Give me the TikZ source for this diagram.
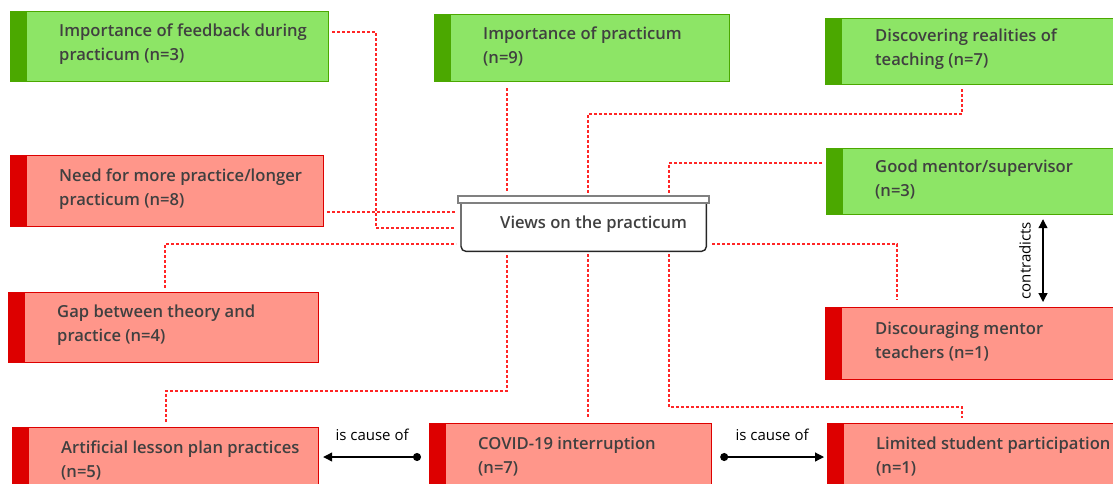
\documentclass[tikz,border=0pt]{standalone}
\usepackage{fontspec}
\setmainfont{Open Sans}
\IfFontExistsTF{Open Sans SemiBold}{\newfontfamily\semib{Open Sans SemiBold}}{%
  \IfFontExistsTF{Open Sans Semibold}{\newfontfamily\semib{Open Sans Semibold}}{%
    \newfontfamily\semib{Open Sans}}}
\usetikzlibrary{arrows.meta,calc}
\definecolor{gfill}{HTML}{8DE566}
\definecolor{gdark}{HTML}{4BA800}
\definecolor{rfill}{HTML}{FF968A}
\definecolor{rdark}{HTML}{DD0000}
\definecolor{txt}{HTML}{404040}
\definecolor{lnk}{HTML}{FF2626}
\tikzset{
  x=1pt, y=-1pt,
  card/.style={rectangle, anchor=north west, inner sep=0pt, line width=1.2pt},
  gcard/.style={card, draw=gdark, fill=gfill,
    path picture={\fill[gdark] (path picture bounding box.south west) rectangle ([xshift=16pt]path picture bounding box.north west);}},
  rcard/.style={card, draw=rdark, fill=rfill,
    path picture={\fill[rdark] (path picture bounding box.south west) rectangle ([xshift=16pt]path picture bounding box.north west);}},
  lbl/.style={anchor=west, align=left, inner sep=0pt, text=txt, font=\semib\fontsize{16.6}{24}\selectfont},
  link/.style={draw=lnk, line width=1.8pt, dash pattern=on 3pt off 2pt},
  rel/.style={draw=black, line width=1.2pt},
  rellbl/.style={font=\fontsize{15}{18}\selectfont, text=black, inner sep=0pt},
}
\begin{document}
\begin{tikzpicture}
\useasboundingbox (0,0) rectangle (1113,483);
\clip (0,0) rectangle (1113,483);

% boxes
\node[gcard, minimum width=318pt, minimum height=70pt] (b1) at (10,11) {};
\node[rcard, minimum width=313pt, minimum height=71pt] (b2) at (10,155) {};
\node[gcard, minimum width=295pt, minimum height=67pt] (b3) at (434,14) {};
\node[gcard, minimum width=300pt, minimum height=66pt] (b4) at (825,18) {};
\node[gcard, minimum width=300pt, minimum height=66pt] (b5) at (826,148) {};
\node[rcard, minimum width=300pt, minimum height=72pt] (b6) at (825,307) {};
\node[rcard, minimum width=300pt, minimum height=70pt] (b7) at (827,423) {};
\node[rcard, minimum width=310pt, minimum height=70pt] (b8) at (8,292) {};
\node[rcard, minimum width=306pt, minimum height=70pt] (b9) at (12,427) {};
\node[rcard, minimum width=282pt, minimum height=70pt] (b10) at (429,423) {};

% texts
\node[lbl] (t1) at ($(b1.west)+(49,-2)$) {Importance of feedback during\\practicum (n=3)};
\node[lbl] (t2) at ($(b2.west)+(49,-2)$) {Need for more practice/longer\\practicum (n=8)};
\node[lbl] (t3) at ($(b3.west)+(49,-2)$) {Importance of practicum\\(n=9)};
\node[lbl] (t4) at ($(b4.west)+(50,-2)$) {Discovering realities of\\teaching (n=7)};
\node[lbl] (t5) at ($(b5.west)+(49,-2)$) {Good mentor/supervisor\\(n=3)};
\node[lbl] (t6) at ($(b6.west)+(50,-2)$) {Discouraging mentor\\teachers (n=1)};
\node[lbl] (t7) at ($(b7.west)+(49,-2)$) {Limited student participation\\(n=1)};
\node[lbl] (t8) at ($(b8.west)+(49,-2)$) {Gap between theory and\\practice (n=4)};
\node[lbl] (t9) at ($(b9.west)+(49,-2)$) {Artificial lesson plan practices\\(n=5)};
\node[lbl] (t10) at ($(b10.west)+(49,-2)$) {COVID-19 interruption\\(n=7)};

% central node
\node[rectangle, anchor=north west, inner sep=0pt, minimum width=245pt, minimum height=48pt] (c) at (461,203) {};
\draw[line width=1.4pt, draw=black!85, fill=white, rounded corners=5pt]
  (c.north west) -- (c.south west) -- (c.south east) -- (c.north east);
\draw[line width=1.2pt, draw=black!50, fill=white] (458,196) rectangle (709,203);
\node[lbl] (ct) at ($(c.west)+(39,-3)$) {Views on the practicum};

% dotted links
\draw[link] ($(b1.north east)+(3,21)$) -| (376,228) -- (456,228);
\draw[link] ($(b2.north east)+(3,57)$) -- (456,212);
\draw[link] ($(b8.north west)+(157,-4)$) |- (456,244);
\draw[link] ($(b9.north west)+(154,-5)$) |- (507,391) -- (507,254);
\draw[link] ($(b3.south west)+(73,6)$) -- (507,193);
\draw[link] ($(b4.south west)+(137,4)$) |- (588,114) -- (588,193);
\draw[link] ($(b5.north west)+(-4,15)$) -| (669,193);
\draw[link] (712,244) -| ($(b6.north west)+(72,-7)$);
\draw[link] (588,254) -- ($(b10.north west)+(159,-5)$);
\draw[link] (669,254) |- (962,407) -- ($(b7.north west)+(135,-5)$);

% relations
\draw[rel, {Triangle[length=9pt,width=9pt]}-{Triangle[length=9pt,width=9pt]}] ($(b5.south west)+(217,4)$) -- coordinate[pos=0.5] (cm) ($(b6.north west)+(218,-5)$);
\node[rellbl, rotate=90] (clbl) at ($(cm)+(-18,0)$) {contradicts};
\coordinate (a1) at ($(b10.north west)+(-8,34)$);
\coordinate (a2) at ($(b10.north east)+(8,34)$);
\draw[rel, {Circle[length=8pt]}-{Triangle[length=9pt,width=9pt]}] (a1) -- coordinate[pos=0.5] (m1) ($(a1 -| b9.east)+(4,0)$);
\node[rellbl] (l1) at ($(m1)+(0,-22)$) {is cause of};
\draw[rel, {Circle[length=8pt]}-{Triangle[length=9pt,width=9pt]}] (a2) -- coordinate[pos=0.5] (m2) ($(a2 -| b7.west)+(-3,0)$);
\node[rellbl] (l2) at ($(m2)+(0,-22)$) {is cause of};
\end{tikzpicture}
\end{document}
